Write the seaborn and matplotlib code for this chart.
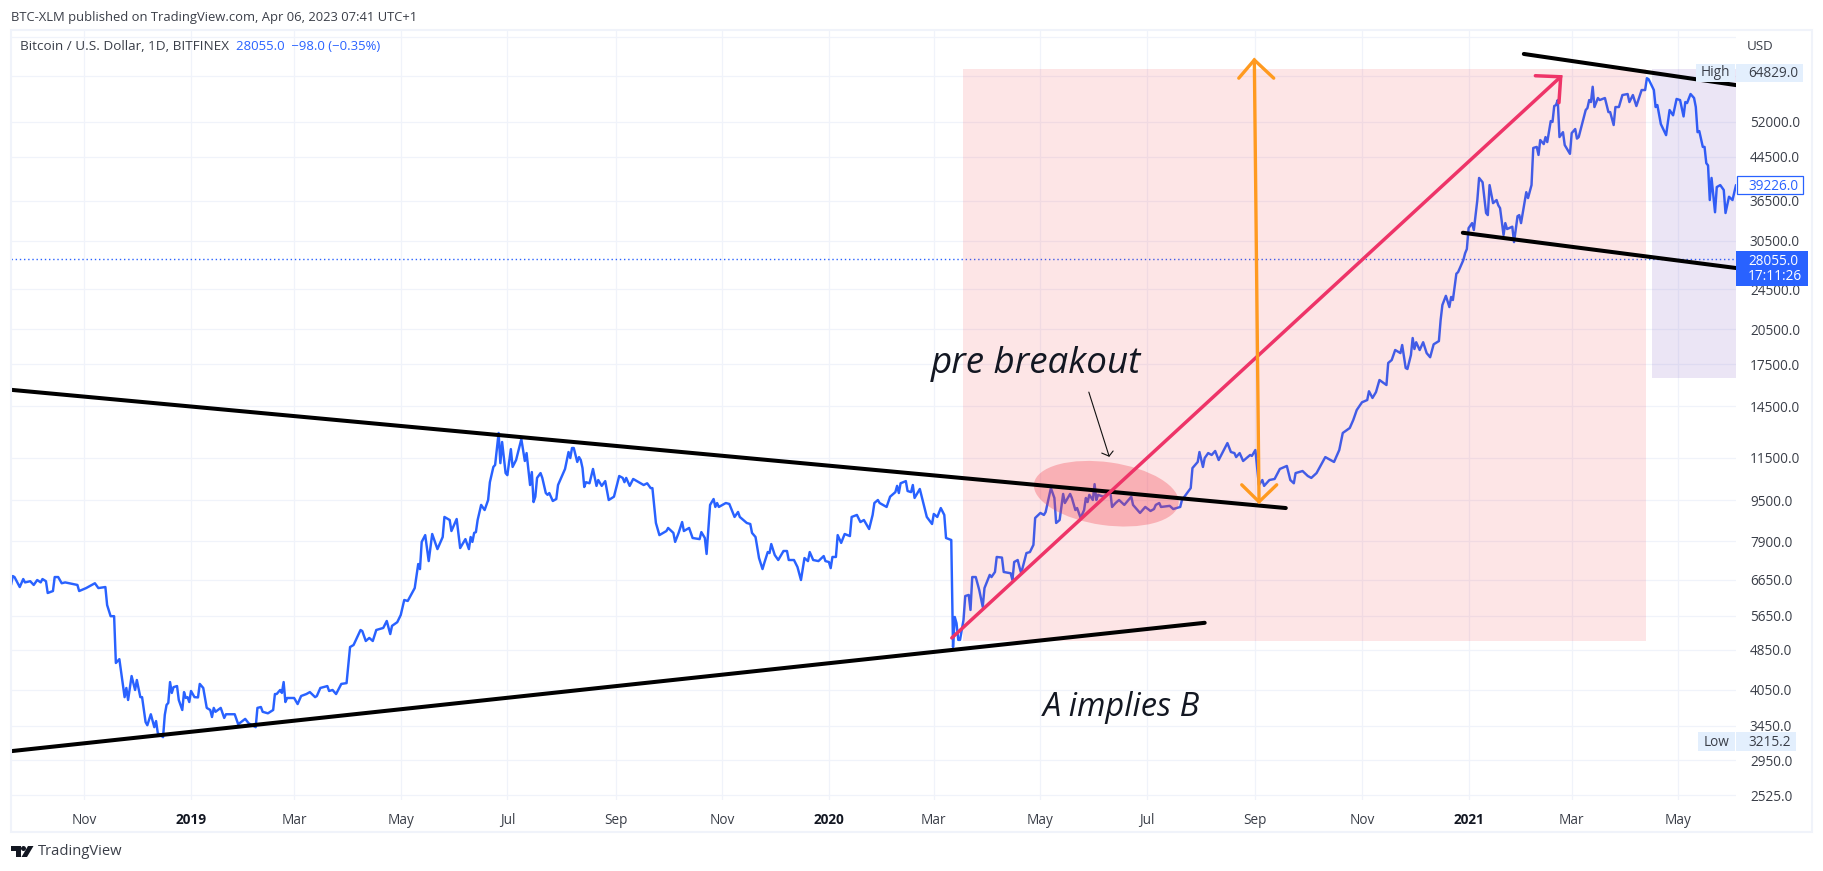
import numpy as np
import pandas as pd
import seaborn as sns
import matplotlib
matplotlib.use("Agg")
import matplotlib.pyplot as plt
import matplotlib.dates as mdates
from matplotlib.patches import Rectangle, Polygon, Ellipse
from matplotlib.ticker import NullLocator
from matplotlib.transforms import IdentityTransform

# ---------- data: days since the left edge of the chart, daily close in USD ----------
START = pd.Timestamp("2018-09-20")
days_a = [0,1,2,5,7,8,11,13,15,17,
          18,20,21,24,25,27,29,31,38,39,
          43,48,50,54,55,57,59,60,62,65,
          66,67,69,71,72,74,75,77,78,80,
          82,83,84,87,88,89,90,91,92,93,
          95,96,98,99,100,101,102,103,105,107,
          108,110,112,114,115,116,117,120,122,123,
          128,130,134,136,140,141,143,144,147,150,
          151,152,154,155,156,157,158,162,164,166,
          169,171,174,175,177,181,182,184,186,189,
          192,194,196,200,201,203,205,207,209,213,
          215,217,218,221,223,225,227,231,233,234]
close_a = [6490,6755,6725,6430,6665,6565,6600,6490,6636,6565,
           6665,6600,6260,6315,6725,6725,6540,6565,6490,6315,
           6400,6540,6400,6430,5930,5640,5640,4570,4650,3920,
           4085,3870,4310,4048,4234,3920,3920,3505,3455,3630,
           3425,3520,3335,3275,3620,3785,3820,4195,3995,4100,
           4120,3870,3700,4010,3905,3920,3835,4030,3920,3915,
           4160,4085,3735,3700,3585,3735,3670,3735,3570,3630,
           3630,3470,3555,3485,3425,3735,3750,3670,3645,3700,
           3975,3975,4048,3995,4195,3835,3905,3905,3800,3940,
           3975,4010,3920,3940,4085,4120,4030,4048,3975,4160,
           4175,4910,4955,5301,5275,5045,5115,5045,5301,5350,
           5520,5205,5400,5490,5670,6066,6040,6400,7130,6970]
days_b = [235,237,239,241,244,247,248,251,252,255,
          257,260,262,263,264,265,266,267,269,271,
          273,274,276,277,279,280,281,283,284,286,
          287,289,292,294,295,297,298,299,300,301,
          303,304,306,307,308,310,312,313,317,319,
          320,321,322,324,325,326,327,328,329,331,
          333,335,336,338,340,342,345,348,350,351,
          352,354,356,362,364,366,367,369,371,375,
          376,379,380,382,384,385,388,390,394,395,
          397,398,400,402,403,404,405,409,411,414,
          416,417,421,423,424,426,428,430,431,433,
          434,435,437,439,442,444,445,448,450,452,
          454,456,457,459,462,465,466,468,469,470,
          472,473,475,477,480,481,484,486,488,491,
          493,494,496,497,501,503,506,507,508,509,
          512,513,515,516,517,520,524,527,528,530,
          532,534,535,538]
close_b = [7875,8120,7225,8160,7625,8050,8810,8690,8270,8730,
           7660,7975,7625,8050,7875,8200,8230,8690,9300,9089,
           9507,10300,11030,11130,12850,11220,12340,10730,10630,11950,
           11030,11379,12500,11330,11740,10170,10780,9420,9650,10500,
           10730,10500,9810,9730,9810,9465,9550,10170,10930,11795,
           11480,12010,12010,11280,11530,11379,10975,10080,10300,10250,
           10930,10130,10400,10130,10350,9507,9650,10590,10500,10300,
           10500,10130,10450,10170,10250,10030,10030,8575,8120,8270,
           8385,8200,7875,8200,8610,8270,8385,8015,7975,8230,
           8015,7460,9300,9550,9215,9380,9215,9380,9340,8810,
           9010,8810,8575,8535,8200,8050,7325,6970,7160,7525,
           7490,7800,7425,7260,7560,7560,7260,7260,7035,6636,
           7325,7225,7525,7260,7225,7390,7225,7195,7000,7360,
           7360,8120,7840,8160,8085,8810,8890,8610,8690,8345,
           8890,9380,9507,9380,9215,9650,9850,10130,9810,10250,
           10350,9900,9850,10170,9595,9990,8810,8535,8930,8810,
           9170,8890,8015,7943]
days_c = [539,540,541,542,543,545,546,548,549,550,
          552,554,556,557,560,561,563,564,567,568,
          572,573,574,576,577,578,581,583,585,586,
          589,591,592,595,597,598,600,602,603,606,
          607,609,610,612,614,615,616,617,619,620,
          621,622,625,628,629,630,632,634,637,641,
          642,646,649,652,654,655,657,658,663,665,
          669,670,675,676,679,680,682,683,685,687,
          689,691,696,698,700,701,703,705,709,710,
          712,714,716,717,720,723,726,730,732,734,
          735,739,742,744,747,752,754,757,760,762]
close_c = [4910,5620,5465,5070,5070,5545,6175,6205,5800,6725,
           6725,6345,5880,6400,6790,6725,6880,7360,7340,6880,
           6840,6636,7195,7260,7035,6840,7490,7525,7770,8770,
           8970,8890,9010,10030,9595,8575,8690,9770,9380,9770,
           9595,9089,9170,8770,9089,9595,9420,9730,9507,10210,
           9507,9730,9650,9810,9850,9215,9380,9507,9300,9650,
           9300,8970,9215,9050,9130,9300,9380,9215,9260,9130,
           9215,9507,10030,10975,11280,11795,11030,11480,11740,11640,
           11850,11379,12280,11795,11740,11530,11740,11330,11640,11590,
           11902,10170,10400,10130,10400,10450,10930,11080,10400,10250,
           10730,10830,10590,10500,10730,11530,11430,11280,11902,12850]
days_d = [766,768,770,773,776,777,779,781,783,787,
          788,790,792,795,796,798,799,801,802,803,
          804,806,808,810,812,814,817,818,819,821,
          823,824,825,827,828,831,832,833,834,836,
          837,839,840,842,844,845,846,848,850,851,
          852,854,855,856,859,860,862,863,864,867,
          868,870,871,873,874,875,877,878,879,881,
          882,883,884,885,886,888,889,892,893,895,
          896,897,901,902,903,904,905,906,908,909,
          912,914,915,917,918,920,922,925,926,928,
          930,933,935,936,937,940,941,942,944,947,
          949,951,953,955,957,958,959,961,963,964,
          965,966,968,969,970,971,972,973,974,975,
          976,978,980,981,983,985,987]
close_d = [13140,13620,14246,14750,14900,15500,15040,15440,16302,15940,
           17600,17835,18655,18400,19080,17210,17130,18240,19690,18740,
           19320,18655,19320,18400,18060,19140,19420,21347,22840,23800,
           22630,23680,23354,26290,26480,27954,28820,29370,32270,33000,
           31989,36606,40430,39650,34530,34210,39150,36100,36606,35750,
           35300,31280,33000,32130,32470,30300,34040,34210,33000,37920,
           36930,39150,46260,46480,44830,47935,47070,48580,47500,52200,
           52000,55850,56100,57374,48580,49660,46870,45050,49460,50370,
           48250,48580,54853,55350,57374,56860,60900,55600,57900,57374,
           57900,54350,54350,51280,55600,55600,58680,58950,56860,58680,
           55850,60011,60011,63300,63000,60011,55600,56100,51500,49000,
           54853,53570,57660,57374,53300,56860,56600,58950,57900,55600,
           49660,49900,46480,46480,43200,42770,36606,40430,37400,34650,
           38800,39150,38288,34530,37150,36606,39150]

y_ticks = [2525,2950,3450,4050,4850,5650,6650,7900,9500,11500,14500,17500,
           20500,24500,30500,36500,44500,52000,64000,76000]
y_hidden = [64000, 76000]
x_tick_dates = ["2018-11-01","2019-01-01","2019-03-01","2019-05-01","2019-07-01","2019-09-01",
                "2019-11-01","2020-01-01","2020-03-01","2020-05-01","2020-07-01","2020-09-01",
                "2020-11-01","2021-01-01","2021-03-01","2021-05-01"]
x_tick_labels = ["Nov","2019","Mar","May","Jul","Sep","Nov","2020","Mar","May","Jul","Sep","Nov","2021","Mar","May"]

last_price = 28055.0
visible_last = 39226.0
high_price = 64829.0
low_price = 3215.2

# drawings on the chart: (day offset, price)
upper_trend = ([0, 729.4], [15600, 9170])
lower_trend = ([0, 683], [3075, 5475])
top_right_trend = ([865.6, 987], [70580, 61360])
mid_right_trend = ([830.7, 987], [31600, 26970])
pink_arrow = ([538.3, 886.7], [5115, 63700])
pink_head = ([872.2, 886.7, 885.7], [64000, 63700, 56700])
orange_shaft = ([711.4, 714.1], [68700, 9430])
orange_top = ([702.5, 711.4, 722.5], [63300, 68700, 63300])
orange_bottom = ([704.2, 714.1, 724.2], [10180, 9430, 10180])
note_shaft = ([616.7, 628.3], [15440, 11580])
note_head = ([624.1, 628.3, 630.6], [11740, 11580, 11850])
pink_box = ([544.6, 935.3], [5040, 65950])
purple_box = ([938.8, 987], [16450, 65950])
oval_centre = (626.7, 9780)

# ---------- theme ----------
W, H = 1823, 871
sns.set_theme(style="white")
plt.rcParams["font.family"] = ["Open Sans", "DejaVu Sans"]
BLUE = "#2962FF"
GRID = "#F0F3FA"
TEXT = "#3a3e48"
PALE = "#E3EFFD"

fig = plt.figure(figsize=(W / 100, H / 100), dpi=100, facecolor="white")
L, R, T, B = 11, 1736, 31, 800
ax = fig.add_axes([L / W, 1 - B / H, (R - L) / W, (B - T) / H])


def when(days):
    return [START + pd.Timedelta(days=float(d)) for d in np.atleast_1d(days)]


series = pd.DataFrame({
    "date": when(days_a + days_b + days_c + days_d),
    "close": close_a + close_b + close_c + close_d,
})

ax.set_yscale("log")
sns.lineplot(data=series, x="date", y="close", estimator=None, sort=False, ax=ax,
             color=BLUE, linewidth=1.75, zorder=2)
ax.axhline(last_price, color=BLUE, lw=1.0, ls=(0, (1, 2)), zorder=2)

# ---------- shaded boxes ----------
ax.fill_between(when(pink_box[0]), pink_box[1][0], pink_box[1][1], color="#F23645", alpha=0.13, lw=0, zorder=3)
ax.fill_between(when(purple_box[0]), purple_box[1][0], purple_box[1][1], color="#673AB7", alpha=0.13, lw=0, zorder=3)

# ---------- trend lines ----------
for xs, ys in [upper_trend, lower_trend, top_right_trend, mid_right_trend]:
    ax.plot(when(xs), ys, color="black", lw=2.9, solid_capstyle="round", zorder=4)

# ---------- arrows ----------
PINK = "#EE3468"
for xs, ys in [pink_arrow, pink_head]:
    ax.plot(when(xs), ys, color=PINK, lw=2.5, solid_capstyle="round", solid_joinstyle="miter", zorder=5)
ORANGE = "#FF9A1F"
for xs, ys in [orange_shaft, orange_top, orange_bottom]:
    ax.plot(when(xs), ys, color=ORANGE, lw=2.4, solid_capstyle="round", solid_joinstyle="miter", zorder=5)
for xs, ys in [note_shaft, note_head]:
    ax.plot(when(xs), ys, color="#111111", lw=0.8, zorder=5)

ax.set_xlim(START, START + pd.Timedelta(days=987))
ax.set_ylim(2469, 78250)

# ---------- axes ----------
ax.yaxis.tick_right()
ax.yaxis.set_minor_locator(NullLocator())
ax.set_yticks(y_ticks)
ax.set_yticklabels(["" if v in y_hidden else f"{v:.1f}" for v in y_ticks], fontsize=9.8, color=TEXT)
ax.set_xticks(pd.to_datetime(x_tick_dates))
ax.set_xticklabels(x_tick_labels, fontsize=9.8, color=TEXT)
for lab, txt in zip(ax.get_xticklabels(), x_tick_labels):
    if txt.isdigit():
        lab.set_fontweight("bold")
        lab.set_color("#131722")
ax.tick_params(axis="y", length=0, pad=10)
ax.tick_params(axis="x", length=0, pad=9)
ax.set_xlabel("")
ax.set_ylabel("")
ax.grid(True, color=GRID, lw=0.9)
ax.set_axisbelow(True)
for s in ax.spines.values():
    s.set_visible(False)
ax.patch.set_alpha(0)

# ---------- oval, drawn to stay round on the log scale ----------
cx, cy = ax.transData.transform((mdates.date2num(when([oval_centre[0]])[0]), oval_centre[1]))
ax.add_patch(Ellipse((cx, cy), 146, 63, angle=-8, transform=IdentityTransform(),
                     facecolor="#F23645", alpha=0.3, lw=0, zorder=3.5, clip_on=False))

# ---------- handwritten labels ----------
fig.text(1036 / W, 1 - 364 / H, "pre breakout", ha="center", va="center", style="italic",
         fontsize=26.5, color="#131722", zorder=6)
fig.text(1121 / W, 1 - 708 / H, "A implies B", ha="center", va="center", style="italic",
         fontsize=23.5, color="#131722", zorder=6)


# ---------- chrome in figure pixels ----------
def box(x0, y0, x1, y1, fc, ec="none", lw=0.0, z=4):
    fig.add_artist(Rectangle((x0 / W, 1 - y1 / H), (x1 - x0) / W, (y1 - y0) / H, facecolor=fc,
                             edgecolor=ec, linewidth=lw, transform=fig.transFigure, zorder=z))


def label(x, y, s, color=TEXT, size=9.8, ha="left", weight="normal"):
    fig.text(x / W, 1 - y / H, s, color=color, fontsize=size, ha=ha, va="center", weight=weight, zorder=6)


box(11, 30, 1812, 832, "none", ec=GRID, lw=1.5, z=1)
label(11, 17, "BTC-XLM published on TradingView.com, Apr 06, 2023 07:41 UTC+1", size=9.35)
label(20, 47, "Bitcoin / U.S. Dollar, 1D, BITFINEX", size=9.7)
label(236, 47, "28055.0  \u221298.0 (\u22120.35%)", color=BLUE, size=9.45)
label(1747, 46, "USD", size=9.6)

box(1696, 64, 1735, 82, PALE)
box(1736, 64, 1803, 82, PALE)
label(1701, 72.5, "High", size=9.8)
label(1748, 73.5, f"{high_price:.1f}", size=9.8)
box(1698, 732, 1735, 751, PALE)
box(1736, 732, 1796, 751, PALE)
label(1704, 742, "Low", size=9.8)
label(1748, 742, f"{low_price:.1f}", size=9.8)
box(1736.5, 176.5, 1803, 194, "white", ec=BLUE, lw=0.9)
label(1748, 186, f"{visible_last:.1f}", color=BLUE, size=9.8)
box(1736, 251, 1808, 286, BLUE)
label(1748, 261, f"{last_price:.1f}", color="white", size=9.8)
label(1748, 277, "17:11:26", color="white", size=9.8)

# TradingView mark and wordmark
logo = [[(11, 846), (21, 846), (21, 857), (16, 857), (16, 851), (11, 851)],
        [(33.5, 846), (28, 846), (21.5, 857), (27, 857)]]
for pts in logo:
    fig.add_artist(Polygon([(x / W, 1 - y / H) for x, y in pts], closed=True, facecolor="#131722",
                           edgecolor="none", transform=fig.transFigure, zorder=6))
fig.add_artist(Ellipse((23.5 / W, 1 - 848.5 / H), 5 / W, 5 / H, facecolor="#131722", edgecolor="none",
                       transform=fig.transFigure, zorder=6))
label(38, 851, "TradingView", color="#3a3e48", size=10.6)

fig.savefig("out.png", dpi=100)
